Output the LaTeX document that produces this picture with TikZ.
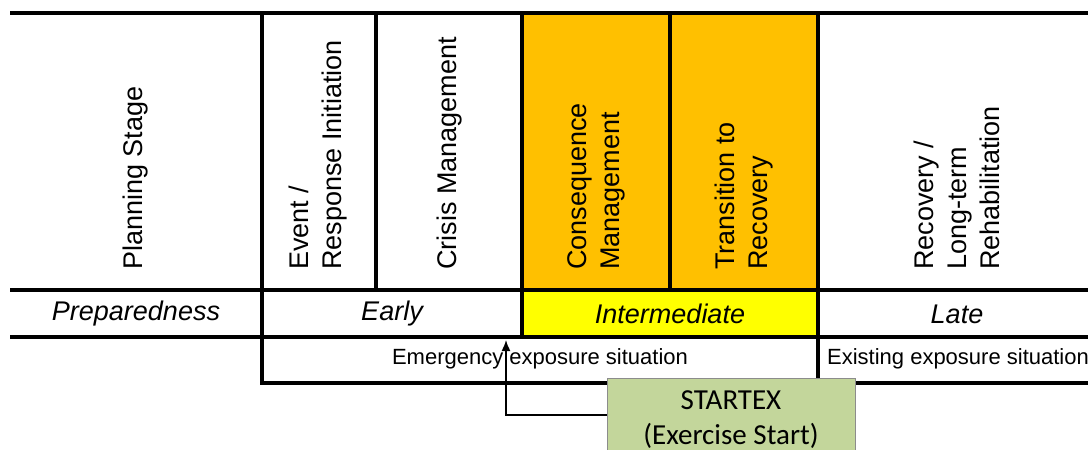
\documentclass[tikz,border=0pt]{standalone}
\usepackage{fontspec}
\setmainfont{Liberation Sans}
\newfontfamily\calibrifont{Carlito}
\usetikzlibrary{arrows.meta}
\definecolor{phaseorange}{HTML}{FFC000}
\definecolor{phaseyellow}{HTML}{FFFF00}
\definecolor{startgreen}{HTML}{C3D69B}
\definecolor{startborder}{HTML}{8C8C8C}
\begin{document}
\begin{tikzpicture}[x=1pt,y=-1pt,
  grid/.style={line width=4pt},
  stage/.style={rotate=90,anchor=west,align=left,inner sep=0pt,font=\fontsize{27}{33}\selectfont},
  phase/.style={inner sep=0pt,font=\fontsize{27}{33}\selectfont\itshape},
  situation/.style={inner sep=0pt,font=\fontsize{22}{26}\selectfont},
  startbox/.style={draw=startborder,fill=startgreen,line width=1pt,align=center,anchor=north,
    minimum width=248pt,inner ysep=12pt,font=\calibrifont\fontsize{29}{35}\selectfont},
  arr/.style={line width=1.5pt,-{Latex[length=11pt,width=9pt]}}]
\useasboundingbox (0,0) rectangle (1088,450);
\fill[phaseorange](522,13) rectangle (818,290);
\fill[phaseyellow](522,290) rectangle (818,337);
\draw[grid](10,13)--(1100,13);
\draw[grid](10,290)--(1100,290);
\draw[grid](10,337)--(1100,337);
\draw[grid](262,13)--(262,383)--(1100,383);
\draw[grid](376,13)--(376,290);
\draw[grid](522,13)--(522,337);
\draw[grid](670,13)--(670,290);
\draw[grid](818,13)--(818,383);
% stages
\node[stage] (plan) at (136,270){Planning Stage};
\node[stage] (event) at (318,270){Event /\\Response Initiation};
\node[stage] (crisis) at (450,270){Crisis Management};
\node[stage] (conseq) at (596,270){Consequence\\Management};
\node[stage] (transit) at (744,270){Transition to\\Recovery};
\node[stage] (recov) at (957,270){Recovery /\\Long-term\\Rehabilitation};
% phases
\node[phase] (prep) at (136,314){Preparedness};
\node[phase] (early) at (392,314){Early};
\node[phase] (inter) at (670,314){Intermediate};
\node[phase] (late) at (957,314){Late};
\node[situation] (emerg) at (540,359){Emergency exposure situation};
\node[situation] (exist) at (958,359){Existing exposure situation};
% exercise start
\node[startbox] (startex) at (731,378){STARTEX\\(Exercise Start)};
\coordinate (tip) at (506,340);
\draw[arr]([yshift=-37pt]startex.north west)-|(tip);
\end{tikzpicture}
\end{document}
